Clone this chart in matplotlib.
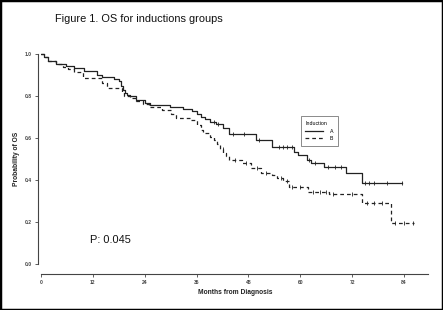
import matplotlib
matplotlib.use("Agg")
import matplotlib.pyplot as plt
from matplotlib.patches import Rectangle

# Kaplan-Meier curves (step: value after each time)
a_times = [0, 0.8, 1.6, 3.5, 5.8, 7.6, 10, 13, 14.2, 16.9, 18.0, 18.5, 19.0, 19.4,
           19.8, 20.5, 22.0, 24.0, 25.2, 29.8, 32.8, 35.0, 36.2, 37.0, 38.0, 39.0,
           40.5, 42.0, 43.6, 49.8, 53.5, 58.5, 59.5, 61.5, 62.5, 65.5, 70.6, 74.3, 83.5]
a_surv = [1.0, 0.985, 0.965, 0.952, 0.941, 0.933, 0.917, 0.900, 0.889, 0.882, 0.87,
          0.85, 0.83, 0.815, 0.805, 0.798, 0.783, 0.766, 0.757, 0.749, 0.738, 0.730,
          0.715, 0.700, 0.690, 0.678, 0.665, 0.650, 0.619, 0.590, 0.559, 0.535, 0.519,
          0.495, 0.482, 0.463, 0.432, 0.384, 0.384]

b_times = [0, 0.8, 1.6, 3.5, 5.0, 6.3, 7.6, 9.7, 14.2, 15.2, 18.8, 19.3, 20.5, 22.0,
           23.5, 25.0, 28.0, 30.0, 31.3, 34.4, 36.0, 37.0, 37.6, 39.0, 40.0, 40.8,
           41.5, 42.2, 42.8, 43.6, 46.6, 48.5, 51.0, 53.5, 54.5, 56.0, 57.5, 61.8,
           66.7, 74.3, 81.0, 86.3]
b_surv = [1.0, 0.985, 0.965, 0.952, 0.94, 0.93, 0.914, 0.884, 0.862, 0.838, 0.82,
          0.80, 0.79, 0.775, 0.762, 0.749, 0.733, 0.715, 0.694, 0.685, 0.662, 0.640,
          0.624, 0.605, 0.590, 0.570, 0.550, 0.530, 0.512, 0.495, 0.480, 0.457, 0.435,
          0.424, 0.410, 0.395, 0.368, 0.345, 0.333, 0.289, 0.194, 0.194]

# censored observations
a_cens = [40.0, 41.0, 44.5, 47.0, 50.5, 55.0, 56.0, 57.0, 58.0, 62.0, 63.5, 66.5,
          68.0, 69.5, 75.0, 76.0, 77.0, 80.0, 83.5]
b_cens = [42.0, 45.0, 47.5, 50.0, 52.0, 55.5, 57.0, 58.0, 60.0, 63.0, 64.5, 66.0,
          67.5, 72.0, 75.5, 77.0, 79.0, 82.0, 84.0, 86.0]

x_ticks = [0, 12, 24, 36, 48, 60, 72, 84]
y_ticks = [0.0, 0.2, 0.4, 0.6, 0.8, 1.0]

W, H = 443, 310
plt.rcParams['font.family'] = ['Liberation Sans', 'DejaVu Sans']
fig = plt.figure(figsize=(W / 100, H / 100), dpi=100)

# axes placed in pixels: month 0 -> x 41, 1.0 -> y 54, 0.0 -> y 264
px_m = 363 / 84
px_p = 210
xl = (0, 90)
yl = (-0.01, 1.01)
left = 41
bottom = 264 + 0.01 * px_p
ax = fig.add_axes([left / W, (H - bottom) / H,
                   (xl[1] - xl[0]) * px_m / W, (yl[1] - yl[0]) * px_p / H])
ax.set_xlim(*xl)
ax.set_ylim(*yl)


def surv_at(times, surv, t):
    v = surv[0]
    for ti, si in zip(times, surv):
        if ti <= t:
            v = si
    return v


ax.step(a_times, a_surv, where='post', color='#222222', lw=0.9, label='A')
ax.step(b_times, b_surv, where='post', color='#222222', lw=0.9,
        linestyle=(0, (3, 2.4)), label='B')
ax.plot(a_cens, [surv_at(a_times, a_surv, t) for t in a_cens], '|',
        color='#222222', ms=3, mew=0.6)
ax.plot(b_cens, [surv_at(b_times, b_surv, t) for t in b_cens], '|',
        color='#222222', ms=3, mew=0.6)

for s in ['top', 'right']:
    ax.spines[s].set_visible(False)
ax.spines['left'].set_position(('outward', 2.2))
ax.spines['bottom'].set_position(('outward', 5.5))
ax.spines['left'].set_bounds(0, 1)
ax.spines['bottom'].set_bounds(0, 89.5)
for s in ['left', 'bottom']:
    ax.spines[s].set_color('#444444')
    ax.spines[s].set_linewidth(0.8)

ax.set_xticks(x_ticks)
ax.set_yticks(y_ticks)
ax.set_yticklabels([f'{v:.1f}' for v in y_ticks])
ax.tick_params(length=2.5, width=0.6, colors='#444444', labelsize=3.6, pad=2.0)
for lab in ax.get_xticklabels() + ax.get_yticklabels():
    lab.set_fontweight('bold')

ax.set_xlabel('Months from Diagnosis', fontsize=4.8, fontweight='bold',
              color='#222222', labelpad=3)
ax.set_ylabel('Probability of OS', fontsize=4.8, fontweight='bold',
              color='#222222', labelpad=3.5)

leg = ax.legend(title='Induction', loc='upper left',
                bbox_to_anchor=(300.5 / W, 1 - 116.5 / H),
                bbox_transform=fig.transFigure, borderaxespad=0,
                fontsize=3.8, title_fontsize=3.8, handlelength=3.4,
                handletextpad=1.2, borderpad=0.9, labelspacing=0.45,
                fancybox=False, framealpha=1)
leg.get_frame().set_edgecolor('#777777')
leg.get_frame().set_linewidth(0.6)
leg._legend_box.align = 'left'

fig.text(55 / W, 1 - 19 / H, 'Figure 1. OS for inductions groups',
         fontsize=7.9, va='center', ha='left', color='#111111')
fig.text(90 / W, 1 - 240 / H, 'P: 0.045', fontsize=7.9, va='center',
         ha='left', color='#111111')

fig.patches.append(Rectangle((0, 0), 1, 1, transform=fig.transFigure,
                             fill=False, edgecolor='black', lw=2.5))

fig.savefig('out.png', dpi=100)
